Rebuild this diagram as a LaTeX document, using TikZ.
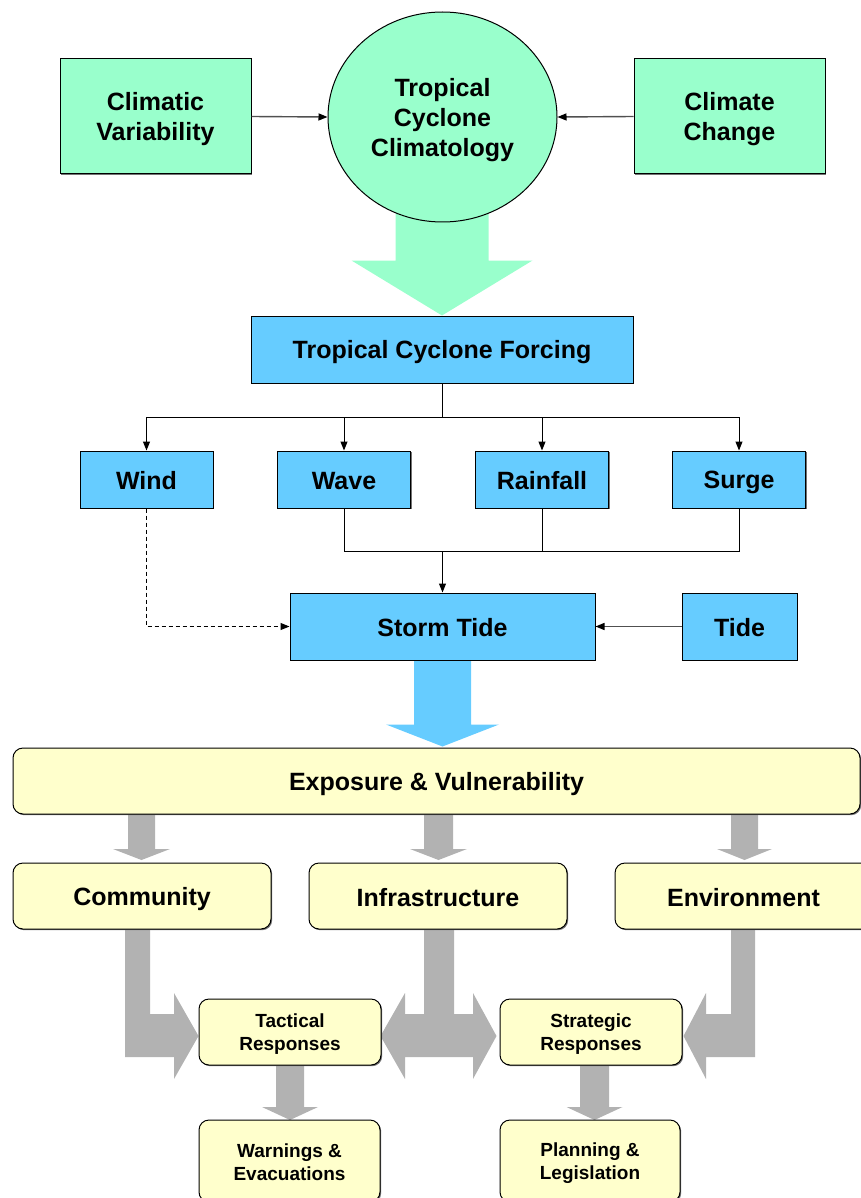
\documentclass[tikz,border=0pt]{standalone}
\usepackage{fontspec}
\setmainfont{Liberation Sans}
\usetikzlibrary{arrows.meta,calc,shapes.geometric,shadows}
\pgfdeclarelayer{bg}
\pgfsetlayers{bg,main}
\definecolor{cgreen}{HTML}{99FFCC}
\definecolor{cblue}{HTML}{66CCFF}
\definecolor{cyel}{HTML}{FFFFCC}
\definecolor{cgrey}{HTML}{B2B2B2}
\definecolor{cline}{HTML}{505050}
\newcommand{\ls}{\rule[-0.15em]{0pt}{1.1em}}
\newcommand{\fatdown}[7]{\fill[#1] (#2-#5,#3) -- (#2+#5,#3) -- (#2+#5,#4) -- (#2+#6,#4) -- (#2,#7) -- (#2-#6,#4) -- (#2-#5,#4) -- cycle;}
\begin{document}
\begin{tikzpicture}[x=1pt,y=-1pt,
  box/.style={draw=black, line width=1pt, align=center, inner sep=0pt, font=\bfseries\fontsize{25}{30}\selectfont,
    drop shadow={shadow xshift=1.2pt, shadow yshift=-1.2pt, fill=black!55, opacity=1}},
  gbox/.style={box, fill=cgreen, rectangle},
  bbox/.style={box, fill=cblue, rectangle},
  ybox/.style={box, fill=cyel, rectangle, rounded corners=10pt},
  smalltext/.style={font=\bfseries\fontsize{19}{23}\selectfont},
  conn/.style={line width=1pt, -{Triangle[length=9pt,width=7pt]}},
  sideconn/.style={draw=cline, line width=1.4pt, -{Triangle[length=9pt,width=7pt,color=black]}},
  plainline/.style={line width=1pt},
  dashline/.style={conn, dash pattern=on 4pt off 3pt}
]
\useasboundingbox (0,0) rectangle (861,1198);
\clip (0,0) rectangle (861,1198);

% top row
\node[gbox, minimum width=191pt, minimum height=115pt] (cv) at (155.5,116.5) {\ls Climatic\\\ls Variability};
\node[gbox, minimum width=191pt, minimum height=115pt] (cc) at (729.5,116.5) {\ls Climate\\\ls Change};
\node[draw=black, line width=1pt, align=center, inner sep=0pt, font=\bfseries\fontsize{25}{30}\selectfont, fill=cgreen, ellipse, minimum width=229pt, minimum height=210pt] (tcc) at (442.5,117) {\ls Tropical\\\ls Cyclone\\\ls Climatology};
\draw[sideconn] (cv.east) -- (tcc.west);
\draw[sideconn] (cc.west) -- (tcc.east);

% forcing
\node[bbox, minimum width=382pt, minimum height=67pt] (tcf) at (442,349.5) {\ls Tropical Cyclone Forcing};
\node[bbox, minimum width=133pt, minimum height=57pt] (wind) at (146.5,479.5) {\ls Wind};
\node[bbox, minimum width=133pt, minimum height=57pt] (wave) at (344,479.5) {\ls Wave};
\node[bbox, minimum width=133pt, minimum height=57pt] (rain) at (542,479.5) {\ls Rainfall};
\node[bbox, minimum width=133pt, minimum height=57pt] (surge) at (739,479.5) {\ls Surge};
\node[bbox, minimum width=305pt, minimum height=67pt] (st) at (442.5,626.5) {\ls Storm Tide};
\node[bbox, minimum width=115pt, minimum height=67pt] (tide) at (739.5,626.5) {\ls Tide};

\coordinate (br) at (442,417);
\draw[plainline] (tcf.south) -- (br);
\draw[plainline] (wind.north |- br) -- (surge.north |- br);
\draw[conn] (wind.north |- br) -- (wind.north);
\draw[conn] (wave.north |- br) -- (wave.north);
\draw[conn] (rain.north |- br) -- (rain.north);
\draw[conn] (surge.north |- br) -- (surge.north);

\coordinate (mg) at (442.5,551);
\draw[plainline] (wave.south) -- (wave.south |- mg) -- (surge.south |- mg) -- (surge.south);
\draw[plainline] (rain.south) -- (rain.south |- mg);
\draw[conn] (mg) -- (st.north);
\draw[dashline] (wind.south) |- (st.west);
\draw[sideconn] (tide.west) -- (st.east);

% exposure
\node[ybox, minimum width=847pt, minimum height=66pt] (ev) at (436.5,781) {\ls Exposure \& Vulnerability};
\node[ybox, minimum width=258pt, minimum height=66pt] (com) at (142,896) {\ls Community};
\node[ybox, minimum width=258pt, minimum height=66pt] (infra) at (438,896) {\ls Infrastructure};
\node[ybox, minimum width=257pt, minimum height=66pt] (env) at (743.5,896) {\ls Environment};
\node[ybox, smalltext, minimum width=182pt, minimum height=66pt] (tac) at (290,1032) {\ls Tactical\\\ls Responses};
\node[ybox, smalltext, minimum width=182pt, minimum height=66pt] (stra) at (591,1032) {\ls Strategic\\\ls Responses};
\node[ybox, smalltext, minimum width=181pt, minimum height=82pt] (warn) at (289.5,1161) {\ls Warnings \&\\\ls Evacuations};
\node[ybox, smalltext, minimum width=180pt, minimum height=82pt] (plan) at (590,1161) {\ls Planning \&\\\ls Legislation};

\begin{pgfonlayer}{bg}
  % green fat arrow
  \fill[cgreen] (tcf.north) -- ++(-90.5,-55) -- ++(44,0) -- ++(0,-70) -- ++(93,0) -- ++(0,70) -- ++(44,0) -- cycle;
  % blue fat arrow
  \fill[cblue] ($(st.south)+(-28.5,0)$) -- ++(57,0) -- ++(0,64) -- ++(28,0) -- ++(-56.5,22) -- ++(-56.5,-22) -- ++(28,0) -- cycle;
  % grey down arrows
  \fatdown{cgrey}{141.5}{814}{849}{13.5}{28.5}{860}
  \fatdown{cgrey}{438.5}{814}{849}{14.5}{28.5}{860}
  \fatdown{cgrey}{744.5}{814}{849}{13.5}{27.5}{860}
  \fatdown{cgrey}{290}{1065}{1107}{14}{28}{1120}
  \fatdown{cgrey}{594.5}{1065}{1107}{14.5}{28}{1120}
  % elbow arrows
  \fill[cgrey] (150,0 |- com.south) -- (150,1014) -- (174,1014) -- (174,993) -- ($(tac.west)+(0,4)$) -- (174,1079) -- (174,1057) -- (125,1057) -- (125,0 |- com.south) -- cycle;
  \fill[cgrey] (424,0 |- infra.south) -- (454,0 |- infra.south) -- (454,1014) -- (473,1014) -- (473,993) -- ($(stra.west)+(-3,4)$) -- (473,1079) -- (473,1057) -- (405,1057) -- (405,1079) -- ($(tac.east)+(-1,4)$) -- (405,993) -- (405,1014) -- (424,1014) -- cycle;
  \fill[cgrey] (731,0 |- env.south) -- (755,0 |- env.south) -- (755,1057) -- (706,1057) -- (706,1079) -- ($(stra.east)+(1,4)$) -- (706,993) -- (706,1014) -- (731,1014) -- cycle;
\end{pgfonlayer}
\end{tikzpicture}
\end{document}
